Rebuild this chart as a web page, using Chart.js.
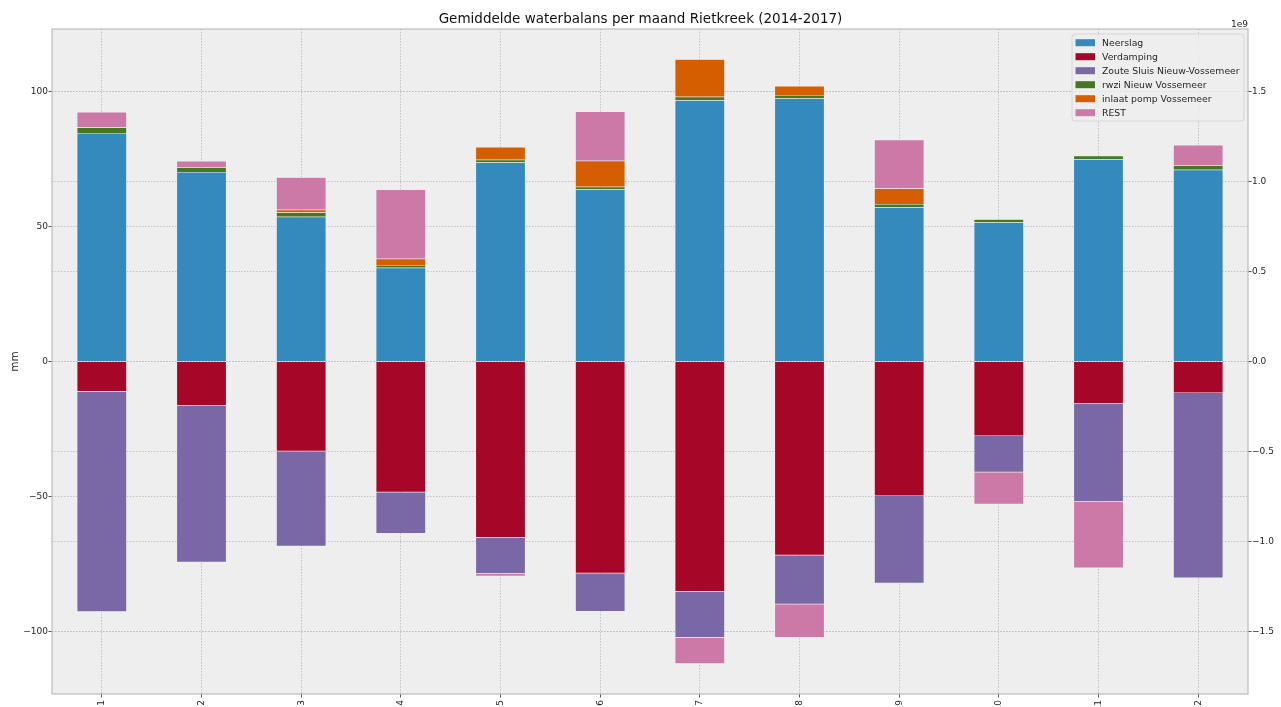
<!DOCTYPE html>
<html>
<head>
<meta charset="utf-8">
<title>Gemiddelde waterbalans per maand Rietkreek (2014-2017)</title>
<script src="https://cdn.jsdelivr.net/npm/chart.js@4.4.1/dist/chart.umd.min.js"></script>
<style>
    html, body { margin: 0; padding: 0; background: #ffffff; overflow: hidden; }
    canvas { display: block; }
</style>
</head>
<body>
<canvas id="waterbalans" width="1281" height="707"></canvas>
<script>
    'use strict';

    // months 1..12, values in mm
    const months = [ '1', '2', '3', '4', '5', '6', '7', '8', '9', '10', '11', '12' ];

    const neerslag = [ 84.7, 70.2, 53.7, 34.8, 73.8, 63.8, 96.8, 97.5, 57.2, 51.5, 74.9, 71.1 ];
    const verdamping = [ -11.1, -16.3, -33.2, -48.4, -65.1, -78.4, -85.1, -71.7, -49.8, -27.5, -15.6, -11.6 ];
    const zouteSluis = [ -81.5, -58.0, -35.2, -15.3, -13.5, -14.1, -17.1, -18.2, -32.3, -13.5, -36.3, -68.5 ];
    const rwzi = [ 2.0, 1.8, 1.5, 1.0, 1.0, 1.0, 1.3, 1.3, 1.2, 1.2, 1.4, 1.6 ];
    const inlaatPomp = [ 0, 0, 1.1, 2.3, 4.7, 9.6, 13.9, 3.3, 5.7, 0, 0, 0 ];
    const rest = [ 5.8, 2.3, 12.0, 25.7, -0.9, 18.2, -9.7, -12.3, 18.1, -11.8, -24.5, 7.5 ];

    // axis limits: left in mm, right in units of 1e9 m3
    const yMin = -123.1;
    const yMax = 123.2;
    const e9PerMm = 0.015;

    const palette = {
        blue: '#348ABD',
        red: '#A60628',
        purple: '#7A68A6',
        green: '#467821',
        orange: '#D55E00',
        pink: '#CC79A7'
    };

    const font = '"DejaVu Sans", "Liberation Sans", sans-serif';
    const tickSize = 9;
    const textColor = '#262626';
    const gridColor = '#b8b8b8';

    function minus ( text )
    {
        return String( text ).replace( '-', '\u2212' );
    }

    function series ( label, data, color )
    {
        return {
            label,
            data,
            backgroundColor: color,
            borderColor: '#eeeeee',
            borderWidth: 0.5,
            barPercentage: 0.5,
            categoryPercentage: 1.0
        };
    }

    function gridOptions ()
    {
        return {
            color: gridColor,
            lineWidth: 0.8,
            tickColor: '#555555',
            tickLength: 3.5,
            tickBorderDash: [],
            tickWidth: 1
        };
    }

    function borderOptions ()
    {
        return { display: false, dash: [ 1.5, 1.5 ] };
    }

    const axesBackground = {
        id: 'axes-background',
        beforeDraw ( chart )
        {
            const { ctx, chartArea } = chart;
            ctx.save();
            ctx.fillStyle = '#eeeeee';
            ctx.fillRect( chartArea.left, chartArea.top, chartArea.right - chartArea.left, chartArea.bottom - chartArea.top );
            ctx.restore();
        }
    };

    const axesFrame = {
        id: 'axes-frame',
        afterDraw ( chart )
        {
            const { ctx, chartArea } = chart;
            ctx.save();
            ctx.strokeStyle = '#bcbcbc';
            ctx.lineWidth = 1.2;
            ctx.strokeRect( chartArea.left, chartArea.top, chartArea.right - chartArea.left, chartArea.bottom - chartArea.top );

            // offset text of the right axis
            ctx.font = tickSize + 'px ' + font;
            ctx.fillStyle = textColor;
            ctx.textAlign = 'right';
            ctx.textBaseline = 'alphabetic';
            ctx.fillText( '1e9', chartArea.right, chartArea.top - 2 );
            ctx.restore();
        }
    };

    // legend in the upper right corner, inside the axes
    const innerLegend = {
        id: 'inner-legend',
        afterDraw ( chart )
        {
            const { ctx, chartArea } = chart;
            const sets = chart.data.datasets;
            const rowHeight = 14;
            const boxW = 172;
            const boxH = 87;
            const x0 = chartArea.right - 4 - boxW;
            const y0 = chartArea.top + 5;

            ctx.save();
            ctx.beginPath();
            ctx.roundRect( x0, y0, boxW, boxH, 3 );
            ctx.fillStyle = 'rgba(238,238,238,0.8)';
            ctx.fill();
            ctx.strokeStyle = '#d6d6d6';
            ctx.lineWidth = 1;
            ctx.stroke();

            ctx.font = '9.3px ' + font;
            ctx.textAlign = 'left';
            ctx.textBaseline = 'middle';
            sets.forEach( ( ds, i ) =>
            {
                const cy = y0 + 8.7 + i * rowHeight;
                ctx.fillStyle = ds.backgroundColor;
                ctx.fillRect( x0 + 3.5, cy - 3.5, 19.5, 7 );
                ctx.fillStyle = textColor;
                ctx.fillText( ds.label, x0 + 30, cy + 0.5 );
            } );
            ctx.restore();
        }
    };

    new Chart( document.getElementById( 'waterbalans' ), {
        type: 'bar',
        data: {
            labels: months,
            datasets: [
                series( 'Neerslag', neerslag, palette.blue ),
                series( 'Verdamping', verdamping, palette.red ),
                series( 'Zoute Sluis Nieuw-Vossemeer', zouteSluis, palette.purple ),
                series( 'rwzi Nieuw Vossemeer', rwzi, palette.green ),
                series( 'inlaat pomp Vossemeer', inlaatPomp, palette.orange ),
                series( 'REST', rest, palette.pink )
            ]
        },
        options: {
            responsive: false,
            animation: false,
            layout: { padding: 0 },
            plugins: {
                legend: { display: false },
                tooltip: { enabled: false },
                title: {
                    display: true,
                    text: 'Gemiddelde waterbalans per maand Rietkreek (2014-2017)',
                    color: '#111111',
                    font: { family: font, size: 13.5, weight: 'normal' },
                    padding: { top: 11.5, bottom: 1.3 }
                }
            },
            scales: {
                x: {
                    stacked: true,
                    z: 1,
                    offset: true,
                    grid: Object.assign( gridOptions(), { offset: false } ),
                    border: borderOptions(),
                    ticks: {
                        color: textColor,
                        font: { family: font, size: tickSize },
                        minRotation: 90,
                        maxRotation: 90,
                        autoSkip: false,
                        padding: 2.5
                    },
                    afterFit ( scale ) { scale.height = 13; }
                },
                y: {
                    stacked: true,
                    z: 1,
                    position: 'left',
                    min: yMin,
                    max: yMax,
                    grid: gridOptions(),
                    border: borderOptions(),
                    ticks: {
                        stepSize: 50,
                        includeBounds: false,
                        color: textColor,
                        font: { family: font, size: tickSize },
                        padding: 0.5,
                        callback: v => minus( v )
                    },
                    title: {
                        display: true,
                        text: 'mm',
                        color: textColor,
                        font: { family: font, size: 10.5 },
                        padding: { top: 9, bottom: 0 }
                    },
                    afterFit ( scale ) { scale.width = 52; }
                },
                y2: {
                    axis: 'y',
                    z: 1,
                    position: 'right',
                    min: yMin * e9PerMm,
                    max: yMax * e9PerMm,
                    grid: gridOptions(),
                    border: borderOptions(),
                    ticks: {
                        stepSize: 0.5,
                        includeBounds: false,
                        color: textColor,
                        font: { family: font, size: tickSize },
                        padding: 0.5,
                        callback: v => minus( v.toFixed( 1 ) )
                    },
                    afterFit ( scale ) { scale.width = 33; }
                }
            }
        },
        plugins: [ axesBackground, axesFrame, innerLegend ]
    } );
</script>
</body>
</html>
